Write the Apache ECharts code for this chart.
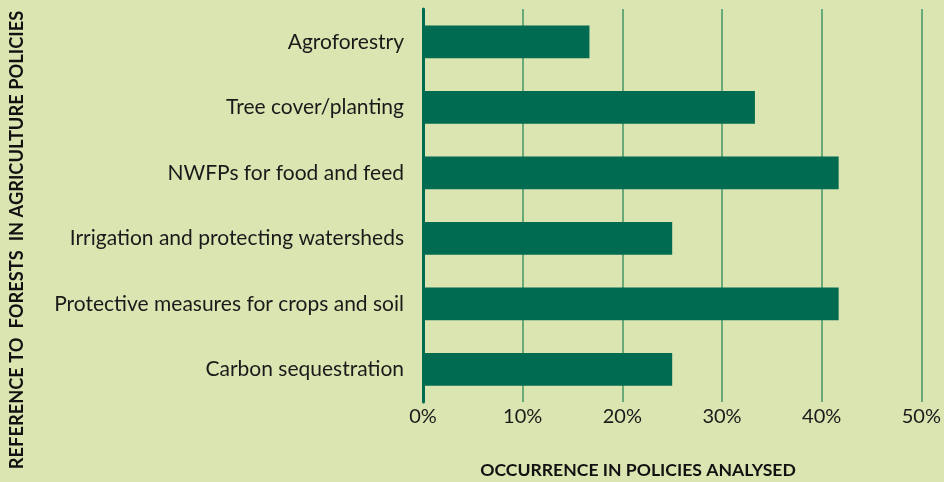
<!DOCTYPE html>
<html>
<head>
<meta charset="utf-8">
<script src="https://cdn.jsdelivr.net/npm/echarts@6/dist/echarts.min.js"></script>
<style>
  html, body { margin: 0; padding: 0; background: #dbe5b2; }
  #chart { width: 944px; height: 482px; }
</style>
</head>
<body>
<div id="chart"></div>
<script>
'use strict';

/* ── Data ── */
const categories = [
  'Agroforestry',
  'Tree cover/planting',
  'NWFPs for food and feed',
  'Irrigation and protecting watersheds',
  'Protective measures for crops and soil',
  'Carbon sequestration'
];
const occurrence = [16.7, 33.3, 41.7, 25, 41.7, 25];

const xTitle = 'OCCURRENCE IN POLICIES ANALYSED';
const yTitle = 'REFERENCE TO  FORESTS  IN AGRICULTURE POLICIES';

const FONT = "Lato, 'DejaVu Sans', sans-serif";
const DARK = '#006b50';

const chart = echarts.init(document.getElementById('chart'), null, { renderer: 'canvas' });

chart.setOption({
  backgroundColor: '#dbe5b2',
  animation: false,
  textStyle: { fontFamily: FONT },
  grid: { left: 423, right: 21, top: 9, bottom: 80, containLabel: false },
  xAxis: {
    type: 'value',
    min: 0,
    max: 50,
    interval: 10,
    axisLine: { show: false },
    axisTick: { show: false },
    splitLine: { lineStyle: { color: '#6aaa78', width: 2 } },
    axisLabel: {
      formatter: '{value}%',
      color: '#1a1a1a',
      fontSize: 20,
      fontFamily: FONT,
      margin: 5
    }
  },
  yAxis: {
    type: 'category',
    data: categories,
    inverse: true,
    axisLine: { lineStyle: { color: DARK, width: 3 } },
    axisTick: { show: false },
    axisLabel: {
      color: '#1a1a1a',
      fontSize: 21,
      fontFamily: FONT,
      margin: 19
    }
  },
  series: [{
    type: 'bar',
    data: occurrence,
    barWidth: '50%',
    itemStyle: { color: DARK }
  }],
  graphic: [
    {
      type: 'text',
      x: 638,
      y: 470,
      style: {
        text: xTitle,
        fill: '#111',
        font: "bold 17.6px " + FONT,
        align: 'center',
        verticalAlign: 'middle'
      }
    },
    {
      type: 'text',
      rotation: Math.PI / 2,
      x: 8,
      y: 240,
      style: {
        text: yTitle,
        fill: '#111',
        font: "bold 18.3px " + FONT,
        align: 'center',
        verticalAlign: 'top'
      }
    }
  ]
});

window.addEventListener('resize', () => chart.resize());
</script>
</body>
</html>
